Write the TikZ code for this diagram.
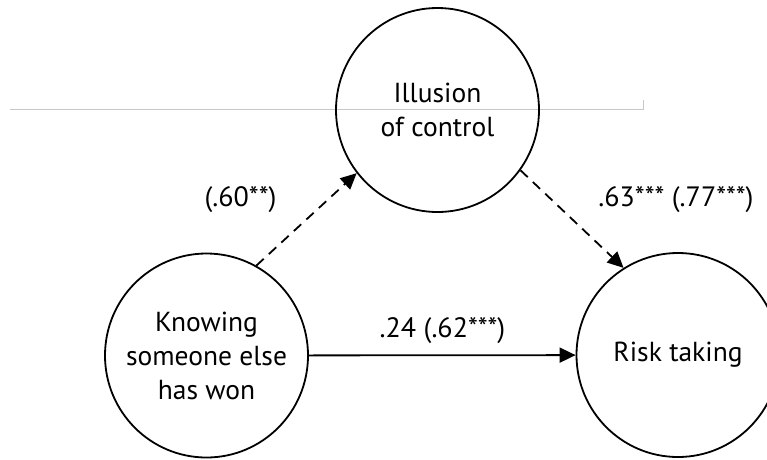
\documentclass[tikz,border=0pt]{standalone}
\usepackage{fontspec}
\setmainfont{PT Sans}
\usetikzlibrary{arrows.meta,shapes.geometric}
\begin{document}
\begin{tikzpicture}[x=1pt,y=-1pt,
  varnode/.style={ellipse,draw,line width=1.8pt,inner sep=-40pt,minimum width=203pt,minimum height=204pt,align=center,font=\fontsize{27.5}{34}\selectfont},
  lbl/.style={anchor=base,inner sep=0pt,font=\fontsize{28}{32}\selectfont},
  conn/.style={line width=1.8pt,-{Triangle[length=16pt,width=15pt]}},
  dashconn/.style={conn,dash pattern=on 10pt off 7pt},
  rule/.style={draw=black!22,line width=1pt}]
\useasboundingbox (0,0) rectangle (767,459);
\coordinate (rl) at (10,109);
\coordinate (rr) at (643,109);
\coordinate (rt) at (643,100);
\draw[rule] (rl) -- (rr) -- (rt);
\node[varnode] (ioc) at (437.5,110) {Illusion\\of control};
\node[varnode] (know) at (206.5,355.5) {Knowing\\someone else\\has won};
\node[varnode] (risk) at (678,355) {Risk taking};
\draw[dashconn] (know.61) -- (ioc.218);
\draw[dashconn] (ioc.324) -- (risk.122);
\draw[conn] (know) -- (risk);
\node[lbl] (l1) at (240.5,206) {(.60**)};
\node[lbl] (l2) at (676,206.5) {.63*** (.77***)};
\node[lbl] (l3) at (442.5,337) {.24 (.62***)};
\end{tikzpicture}
\end{document}
